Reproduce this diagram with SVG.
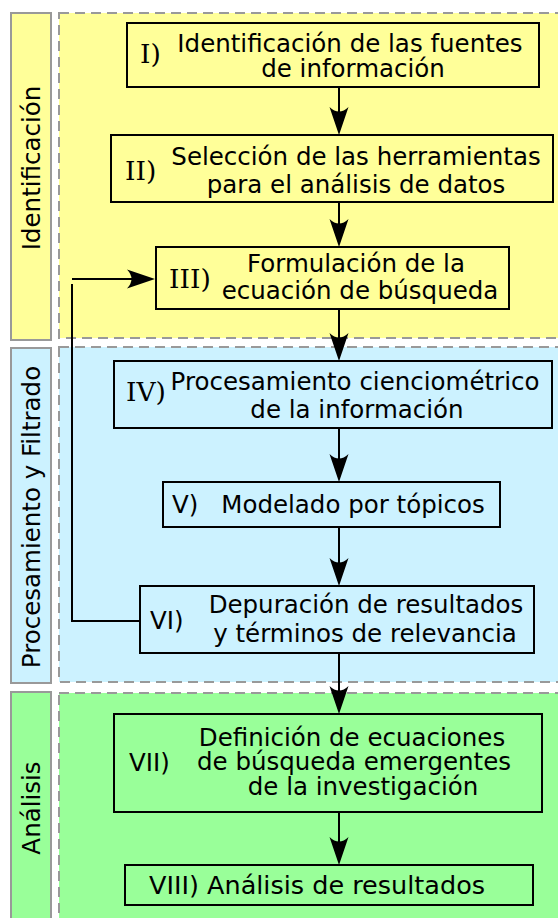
<svg xmlns="http://www.w3.org/2000/svg" width="558" height="918" viewBox="0 0 558 918">
<style>
.sec{stroke:#999;stroke-width:2;stroke-dasharray:10,6}
.side{stroke:#999;stroke-width:2}
.box{stroke:#000;stroke-width:2}
text{font-family:"DejaVu Sans",Verdana,sans-serif;font-size:24.5px;fill:#000}
.num{font-family:"DejaVu Serif",serif;font-size:26.5px}
.c{text-anchor:middle}
.conn{fill:none;stroke:#000;stroke-width:2}
</style>
<defs>
<marker id="ah" markerUnits="userSpaceOnUse" markerWidth="32" markerHeight="22" viewBox="-30 -11 32 22" refX="-3" refY="0" orient="auto">
<path d="M0,0 L-28,-9.5 Q-19,0 -28,9.5 Z" fill="#000"/>
</marker>
</defs>
<rect width="558" height="918" fill="#fff"/>
<g id="sec-identificacion">
<rect class="sec" x="59" y="13" width="510" height="325" fill="#ffff99"/>
<rect class="side" x="11" y="13" width="40" height="327" fill="#ffff99"/>
<text class="c" transform="translate(40,168) rotate(-90)">Identificación</text>
</g>
<g id="sec-procesamiento">
<rect class="sec" x="59" y="347" width="510" height="335" fill="#ccf2ff"/>
<rect class="side" x="11" y="348" width="40" height="335" fill="#ccf2ff"/>
<text class="c" transform="translate(40,517) rotate(-90)">Procesamiento y Filtrado</text>
</g>
<g id="sec-analisis">
<rect class="sec" x="59" y="693" width="510" height="240" fill="#99ff99"/>
<rect class="side" x="11" y="692" width="40" height="240" fill="#99ff99"/>
<text class="c" transform="translate(40,808) rotate(-90)">Análisis</text>
</g>
<g id="connectors">
<path class="conn" d="M339,87 V132" marker-end="url(#ah)"/>
<path class="conn" d="M339,202 V244" marker-end="url(#ah)"/>
<path class="conn" d="M339,309 V358" marker-end="url(#ah)"/>
<path class="conn" d="M339,428 V479" marker-end="url(#ah)"/>
<path class="conn" d="M339,527 V583" marker-end="url(#ah)"/>
<path class="conn" d="M339,653 V711" marker-end="url(#ah)"/>
<path class="conn" d="M339,812 V862" marker-end="url(#ah)"/>
<path class="conn" d="M140,621 H72 V284"/>
<path class="conn" d="M72,279 H152" marker-end="url(#ah)"/>
</g>
<g id="n1">
<rect class="box" x="127" y="23" width="412" height="64" fill="#ffff99"/>
<text class="num" x="140" y="63">I)</text>
<text class="c" x="350" y="52">Identificación de las fuentes</text>
<text class="c" x="353" y="77">de información</text>
</g>
<g id="n2">
<rect class="box" x="111" y="135" width="442" height="67" fill="#ffff99"/>
<text class="num" x="125" y="180">II)</text>
<text class="c" x="356" y="165">Selección de las herramientas</text>
<text class="c" x="356" y="193">para el análisis de datos</text>
</g>
<g id="n3">
<rect class="box" x="156" y="247" width="353" height="62" fill="#ffff99"/>
<text class="num" x="169" y="288">III)</text>
<text class="c" x="356" y="272">Formulación de la</text>
<text class="c" x="360" y="299">ecuación de búsqueda</text>
</g>
<g id="n4">
<rect class="box" x="114" y="361" width="438" height="67" fill="#ccf2ff"/>
<text class="num" x="126" y="401">IV)</text>
<text class="c" x="355" y="390">Procesamiento cienciométrico</text>
<text class="c" x="357" y="418">de la información</text>
</g>
<g id="n5">
<rect class="box" x="163" y="482" width="337" height="45" fill="#ccf2ff"/>
<text x="172" y="513">V)</text>
<text class="c" x="353" y="513">Modelado por tópicos</text>
</g>
<g id="n6">
<rect class="box" x="140" y="586" width="394" height="67" fill="#ccf2ff"/>
<text x="150" y="629">VI)</text>
<text class="c" x="366" y="613">Depuración de resultados</text>
<text class="c" x="365" y="642">y términos de relevancia</text>
</g>
<g id="n7">
<rect class="box" x="114" y="714" width="428" height="98" fill="#99ff99"/>
<text x="129" y="771">VII)</text>
<text class="c" x="352" y="746">Definición de ecuaciones</text>
<text class="c" x="354" y="770">de búsqueda emergentes</text>
<text class="c" x="363" y="795">de la investigación</text>
</g>
<g id="n8">
<rect class="box" x="125" y="865" width="408" height="40" fill="#99ff99"/>
<text class="c" x="317" y="894" style="font-size:25.5px">VIII) Análisis de resultados</text>
</g>
</svg>
